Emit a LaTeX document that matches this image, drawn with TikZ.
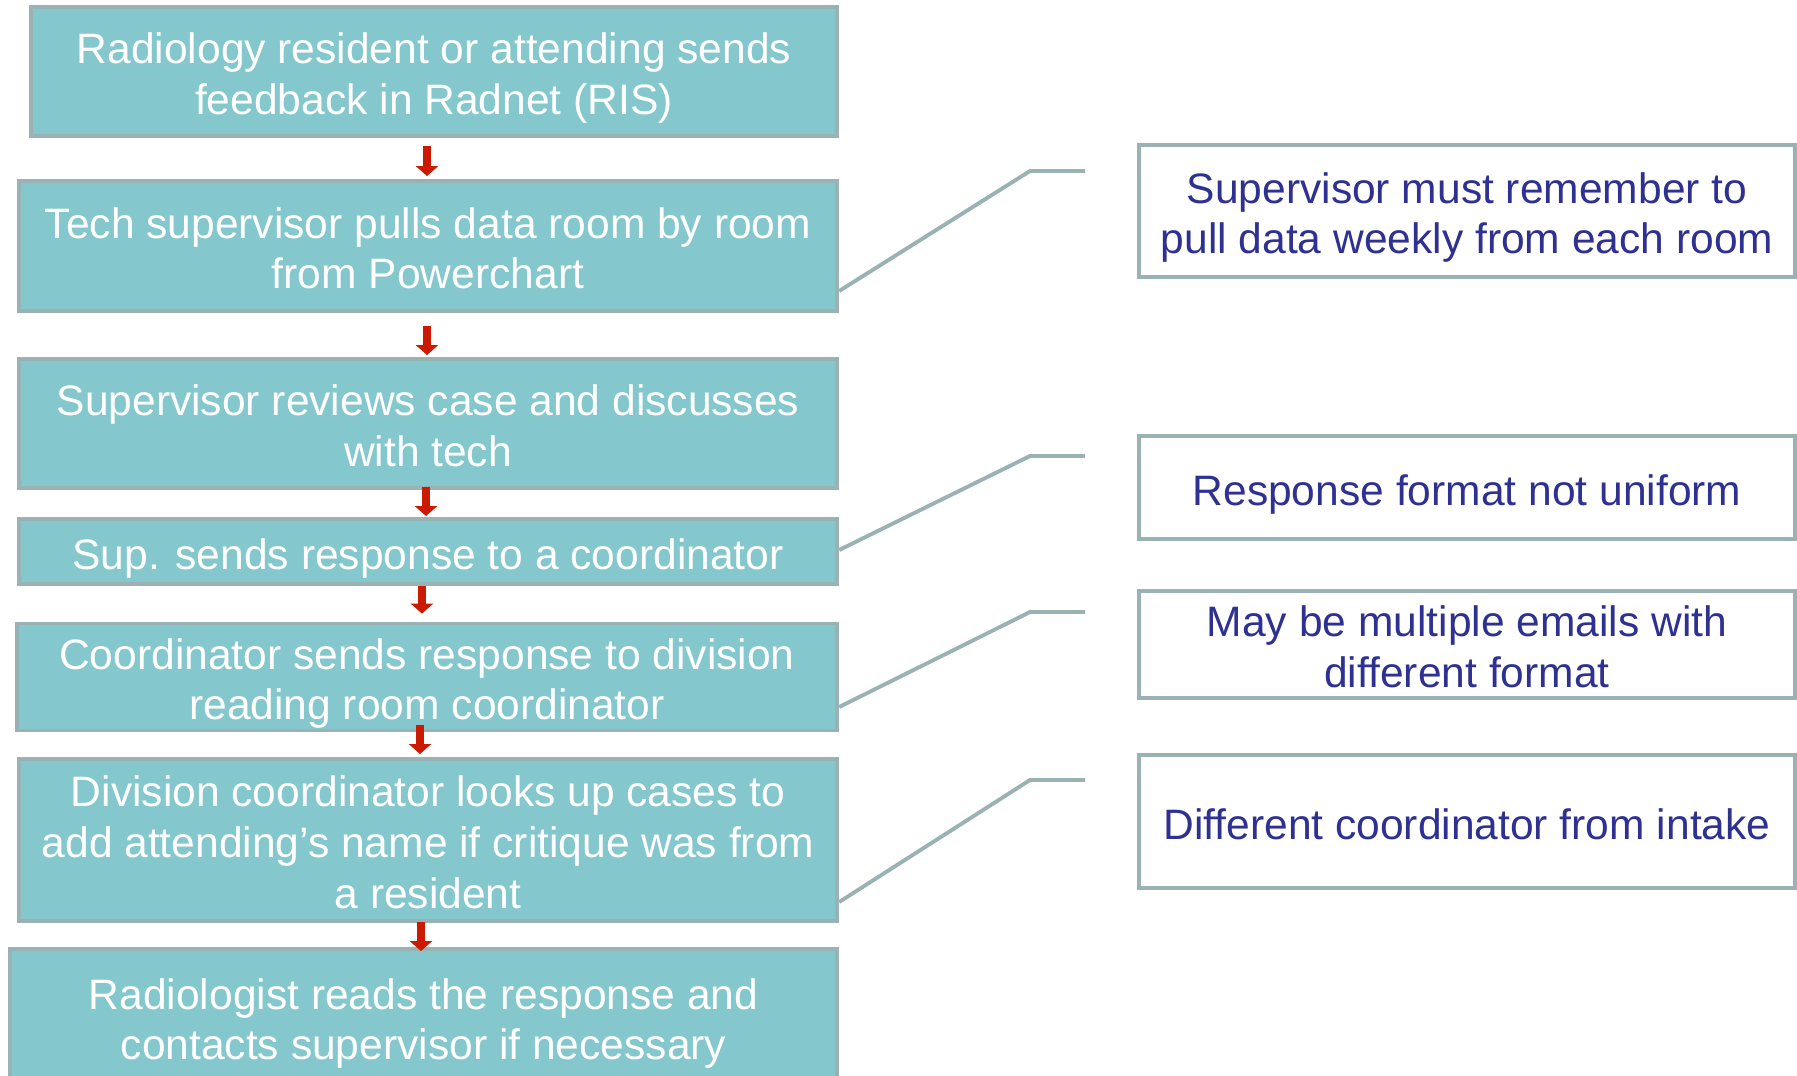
\documentclass[tikz,border=0pt]{standalone}
\usepackage{fontspec}
\setmainfont{Liberation Sans}
\usetikzlibrary{arrows.meta}

\definecolor{stepfill}{HTML}{84C8CD}
\definecolor{stepline}{HTML}{9AB2B4}
\definecolor{flowred}{HTML}{CC1A00}
\definecolor{notetext}{HTML}{2E3192}
\newcommand{\upstrut}{\rule{0pt}{13pt}}
\newcommand{\downstrut}{\rule[-3pt]{0pt}{3pt}}

\begin{document}
\begin{tikzpicture}[x=0.01cm, y=-0.01cm,
  stepbox/.style={draw=stepline, line width=1.1pt, fill=stepfill, text=white, align=center, inner sep=0pt, font=\fontsize{12.1}{14.4}\selectfont},
  notebox/.style={draw=stepline, line width=1.1pt, fill=white, text=notetext, align=center, inner sep=0pt, minimum width=6.56cm, font=\fontsize{12.1}{14.4}\selectfont},
  flow/.style={draw=flowred, line width=2.3pt, -{Triangle[width=0.22cm, length=0.1cm]}},
  callout/.style={draw=stepline, line width=1.1pt}]
\useasboundingbox (0,0) rectangle (1797,1075);
\clip (0,0) rectangle (1797,1075);

% process steps
\node[stepbox, minimum width=8.06cm, minimum height=1.29cm] (s1) at (434,71.5) {\upstrut Radiology resident or attending sends\\feedback in Radnet (RIS)\downstrut};
\node[stepbox, minimum width=8.18cm, minimum height=1.30cm] (s2) at (428,246) {\upstrut Tech supervisor pulls data room by room\\from Powerchart\downstrut};
\node[stepbox, minimum width=8.18cm, minimum height=1.29cm] (s3) at (428,423.5) {\upstrut Supervisor reviews case and discusses\\with tech\downstrut};
\node[stepbox, minimum width=8.18cm, minimum height=0.65cm] (s4) at (428,551.5) {\upstrut Sup. sends response to a coordinator\downstrut};
\node[stepbox, minimum width=8.20cm, minimum height=1.04cm] (s5) at (427,677) {\upstrut Coordinator sends response to division\\reading room coordinator\downstrut};
\node[stepbox, minimum width=8.18cm, minimum height=1.62cm] (s6) at (428,840) {\upstrut Division coordinator looks up cases to\\add attending’s name if critique was from\\a resident\downstrut};
\node[stepbox, minimum width=8.27cm, minimum height=1.36cm] (s7) at (423.5,1017) {\upstrut Radiologist reads the response and\\contacts supervisor if necessary\downstrut};

% problems
\node[notebox, minimum height=1.32cm] (p1) at (1467,211) {\upstrut Supervisor must remember to\\pull data weekly from each room\downstrut};
\node[notebox, minimum height=1.03cm] (p2) at (1467,487.5) {\upstrut Response format not uniform\downstrut};
\node[notebox, minimum height=1.05cm] (p3) at (1467,644.5) {\upstrut May be multiple emails with\\different format\downstrut};
\node[notebox, minimum height=1.33cm] (p4) at (1467,821.5) {\upstrut Different coordinator from intake\downstrut};

% arrows
\draw[flow, shorten <=0.08cm, shorten >=0.03cm] (427,0 |- s1.south) -- (427,0 |- s2.north);
\draw[flow, shorten <=0.13cm, shorten >=0.02cm] (427,0 |- s2.south) -- (427,0 |- s3.north);
\draw[flow, shorten <=-0.03cm, shorten >=0.01cm] (426,0 |- s3.south) -- (426,0 |- s4.north);
\draw[flow, shorten <=0cm, shorten >=0.08cm] (422,0 |- s4.south) -- (422,0 |- s5.north);
\draw[flow, shorten <=-0.07cm, shorten >=0.03cm] (420,0 |- s5.south) -- (420,0 |- s6.north);
\draw[flow, shorten <=-0.01cm, shorten >=-0.04cm] (421,0 |- s6.south) -- (421,0 |- s7.north);

% callouts
\coordinate (k1) at (1085,171);
\coordinate (k2) at (1085,456);
\coordinate (k3) at (1085,612);
\coordinate (k4) at (1085,780);
\draw[callout] (s2.east |- 0,291) -- (1030,171) -- (k1);
\draw[callout] (s4.east |- 0,550) -- (1030,456) -- (k2);
\draw[callout] (s5.east |- 0,707) -- (1030,612) -- (k3);
\draw[callout] (s6.east |- 0,902) -- (1030,780) -- (k4);
\end{tikzpicture}
\end{document}
